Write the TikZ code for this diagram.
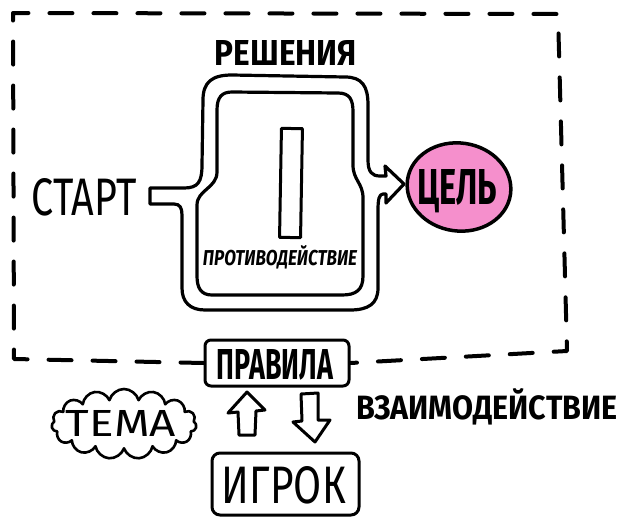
\documentclass[tikz,border=0pt]{standalone}
\usepackage{graphicx}
\usepackage{fontspec}
\setmainfont{Fira Sans}
\usetikzlibrary{shapes.geometric,shapes.symbols}
\definecolor{goalpink}{RGB}{245,143,204}
% text squeezed into a box of given width and height (pt)
\newcommand\letters[3]{\resizebox{#1pt}{#2pt}{#3}}

\begin{document}
\begin{tikzpicture}[x=1pt,y=-1pt,line join=round,line cap=round,
  ink/.style={line width=3.2pt},
  frame/.style={line width=4pt,dash pattern=on 23pt off 21pt},
  word/.style={inner sep=0pt},
  tag/.style={draw,line width=3pt,rounded corners=6pt,inner sep=0pt},
  blockarrow/.style={draw,line width=3pt,fill=white}]
\useasboundingbox (0,0) rectangle (624,520);

% labels
\node[word] (solutions) at (286,52.5) {\letters{142}{25}{\fontseries{sb}\selectfont РЕШЕНИЯ}};
\node[word] (start) at (84,197) {\letters{105}{37}{СТАРТ}};
\node[word] (counter) at (280,257) {\letters{154}{20}{\bfseries\itshape ПРОТИВОДЕЙСТВИЕ}};
\node[word] (interaction) at (487,407) {\letters{261}{31}{\bfseries ВЗАИМОДЕЙСТВИЕ}};

% goal
\node[ellipse,draw,line width=3.5pt,fill=goalpink,minimum width=104pt,
      minimum height=88pt,rotate=-8] (goal) at (459,187) {};
\node[word] (goaltext) at (457,191) {\letters{80}{35}{\bfseries ЦЕЛЬ}};

% rules and player boxes
\node[tag,minimum width=144pt,minimum height=46pt] (rules) at (277,363) {};
\node[word] (rulestext) at (275,365) {\letters{116}{30}{\fontseries{sb}\selectfont ПРАВИЛА}};
\node[tag,rounded corners=8pt,minimum width=147pt,minimum height=62pt] (player) at (285.5,484) {};
\node[word] (playertext) at (284,485) {\letters{124}{37}{ИГРОК}};

% theme cloud
\node[cloud,draw,line width=2.6pt,cloud puffs=15,cloud ignores aspect,
      minimum width=145pt,minimum height=70pt] (themecloud) at (124,424) {};
\node[word] (theme) at (121,423) {\letters{110}{26}{ТЕМА}};

% dashed boundary of the game
\draw[frame] (rules.west) -- (14,359) -- (13,13) -- (558,14) -- (567,351) -- (rules.east);

% the two-way pipe from start to goal
\draw[ink] (150,188) -- (184,188)
  .. controls (198,188) and (202,182) .. (202,165)
  -- (203,100)
  .. controls (203,82) and (212,75) .. (232,75)
  -- (345,77)
  .. controls (362,77) and (368,86) .. (368,105)
  -- (368,160)
  .. controls (368,172) and (372,176) .. (380,176)
  -- (386,176) -- (385,166) -- (404,184) -- (386,203) -- (386,194) -- (383,194)
  .. controls (379,194) and (378,200) .. (378,210)
  -- (378,288)
  .. controls (378,304) and (368,310) .. (350,310)
  -- (205,310)
  .. controls (190,310) and (182,302) .. (182,288)
  -- (182,215)
  .. controls (182,208) and (180,204) .. (174,204)
  -- (150,204) -- cycle;
\draw[ink] (232,92) -- (338,93)
  .. controls (350,93) and (353,100) .. (353,112)
  -- (353,165)
  .. controls (353,180) and (363,183) .. (363,198)
  -- (363,276)
  .. controls (363,290) and (356,295) .. (342,295)
  -- (212,295)
  .. controls (201,295) and (197,288) .. (197,276)
  -- (197,205)
  .. controls (197,190) and (217,188) .. (217,172)
  -- (217,110)
  .. controls (217,97) and (222,92) .. (232,92) -- cycle;

% obstacle bar
\node[draw,line width=3pt,minimum width=21pt,minimum height=109pt,inner sep=0pt,
      rotate=-1] (obstacle) at (291,183) {};

% up and down block arrows between player and rules
\draw[blockarrow] (247,392) -- (265,410) -- (256,411) -- (255,435) -- (239,435)
  -- (238,412) -- (228,413) -- cycle;
\draw[blockarrow] (301,394) -- (318,393) -- (318,420) -- (330,420) -- (315,442)
  -- (293,422) -- (302,421) -- cycle;
\end{tikzpicture}
\end{document}
